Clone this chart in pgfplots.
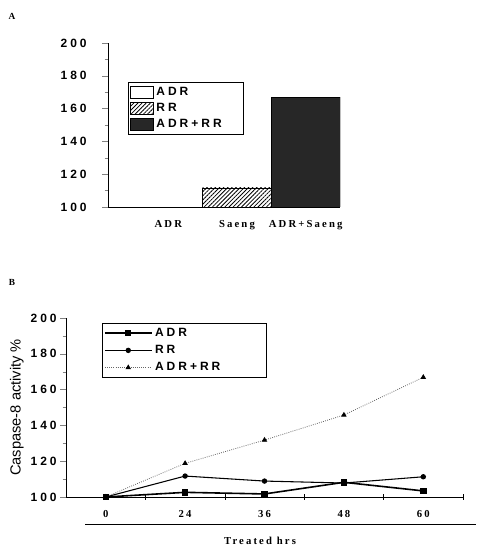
\documentclass[border=0pt]{standalone}
\usepackage{fontspec}
\setmainfont{Liberation Serif}
\newfontfamily\spsans[LetterSpace=25]{Liberation Sans}
\newfontfamily\plainsans{Liberation Sans}
\newfontfamily\spserif[LetterSpace=20]{Liberation Serif}
\usepackage{pgfplots}
\pgfplotsset{compat=1.18}
\usetikzlibrary{patterns,patterns.meta}
\begin{document}
\begin{tikzpicture}
\useasboundingbox (0,0) rectangle (357pt,411pt);
\node[font=\bfseries\fontsize{7}{8}\selectfont] at (9pt,399pt) {A};
\node[font=\bfseries\fontsize{7}{8}\selectfont] at (9pt,199.5pt) {B};
% Panel A
\begin{axis}[at={(81pt,255.75pt)}, anchor=south west, scale only axis,
  width=174pt, height=123pt,
  xmin=-0.878, xmax=2.5, ymin=100, ymax=200,
  axis x line=bottom, axis y line=left, axis line style={-, line width=0.7pt},
  /pgf/number format/assume math mode=true,
  ytick={100,120,...,200}, minor y tick num=1, tick align=outside,
  major tick length=4.5pt, minor tick length=2.5pt,
  yticklabel style={font=\spsans\bfseries\fontsize{9}{10}\selectfont, xshift=-8pt},
  xtick={0,1,2}, xticklabels={ADR,Saeng,ADR+Saeng},
  xtick style={draw=none},
  xticklabel style={font=\spserif\bfseries\fontsize{8}{9}\selectfont, yshift=-2pt},
  ybar, bar width=1, bar shift=0pt,
  legend style={at={(axis description cs:0.086,0.762)}, anchor=north west, draw=black, line width=0.6pt,
    font=\spsans\bfseries\fontsize{9}{11}\selectfont, inner sep=1.5pt, row sep=0.5pt},
  legend cell align=left,
  legend image code/.code={\draw[#1,line width=0.5pt] (0pt,-4.5pt) rectangle (17pt,4.5pt);},
]
\addplot[draw=black, line width=0.5pt, fill=white] coordinates {(0,100)};
\addplot[draw=black, line width=0.5pt, fill=white, postaction={pattern={Lines[angle=45,distance=2.2pt,line width=0.6pt]}}] coordinates {(1,111.6)};
\addplot[draw=black, line width=0.5pt, fill=black!88, postaction={pattern={Dots[radius=0.35pt,distance=1.5pt]}, pattern color=black!45}] coordinates {(2,167)};
\legend{ADR,RR,\makebox[62pt][l]{ADR+RR}}
\end{axis}
% Panel B
\begin{axis}[at={(49.5pt,38.25pt)}, anchor=south west, scale only axis,
  width=297.75pt, height=134.25pt,
  xmin=-0.5, xmax=4.5, ymin=100, ymax=200, clip=false,
  axis x line=bottom, axis y line=left, axis line style={-, line width=0.7pt},
  /pgf/number format/assume math mode=true,
  ytick={100,120,...,200}, minor y tick num=1,
  major tick length=4.5pt, minor tick length=2.5pt,
  ytick align=outside,
  yticklabel style={font=\spsans\bfseries\fontsize{9}{10}\selectfont, xshift=1pt},
  xtick={0,1,2,3,4}, xticklabels={0,24,36,48,60},
  xtick style={draw=none},
  extra x ticks={0.5,1.5,2.5,3.5,4.5}, extra x tick labels={},
  extra x tick style={xtick style={draw=black}, xtick align=center},
  xticklabel style={font=\spserif\bfseries\fontsize{8}{9}\selectfont, yshift=-4pt},
  ylabel={Caspase-8 activity \%},
  every axis y label/.style={at={(axis description cs:-0.124,0.5)}, rotate=90, anchor=center,
    font=\plainsans\fontsize{11}{12}\selectfont},
  legend style={at={(axis description cs:0.09,0.972)}, anchor=north west, draw=black, line width=0.6pt,
    font=\spsans\bfseries\fontsize{9}{11}\selectfont, inner sep=1.5pt, row sep=1.2pt},
  legend cell align=left,
  legend image code/.code={\draw[mark repeat=2,mark phase=2,#1] plot coordinates {(0pt,0pt) (17.5pt,0pt) (35pt,0pt)};},
]
\addplot[black, line width=1.2pt, mark=square*, mark size=1.8pt] coordinates {(0,100) (1,102.6) (2,101.7) (3,108.2) (4,103.4)};
\addplot[black, line width=0.8pt, mark=*, mark size=1.6pt] coordinates {(0,100) (1,111.7) (2,108.9) (3,107.8) (4,111.3)};
\addplot[black!60, line width=0.6pt, densely dotted, mark=triangle*, mark size=1.8pt, mark options={solid, fill=black, draw=black}] coordinates {(0,100) (1,118.8) (2,131.8) (3,145.8) (4,166.9)};
\legend{ADR,RR,\makebox[80pt][l]{ADR+RR}}
\end{axis}
\draw[line width=0.6pt] (63.75pt,18pt) -- (357pt,18pt);
\node[font=\spserif\bfseries\fontsize{8}{9}\selectfont] at (195pt,5pt) {Treated hrs};
\end{tikzpicture}
\end{document}
